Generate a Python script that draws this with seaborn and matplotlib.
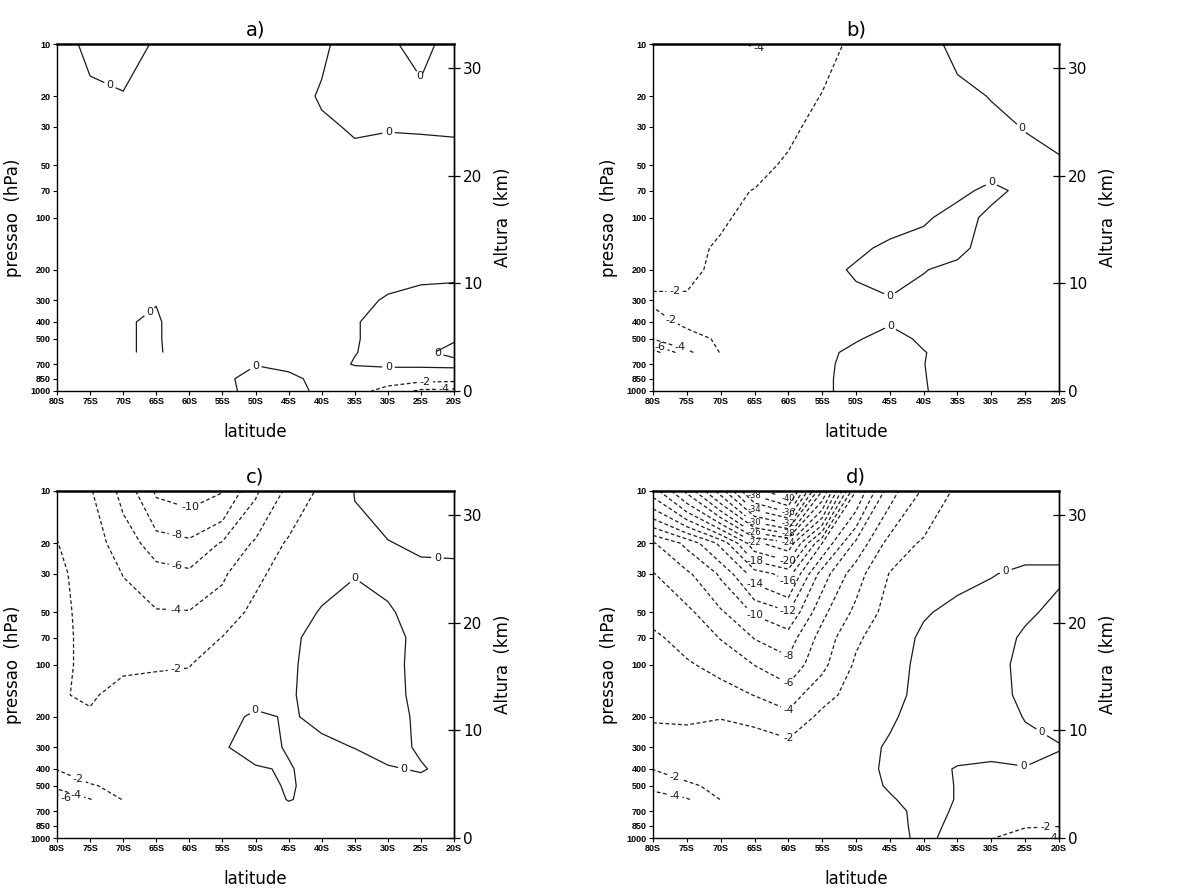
import numpy as np
import matplotlib
matplotlib.use("Agg")
import matplotlib.pyplot as plt
from matplotlib.ticker import NullLocator
import seaborn as sns

# grade: latitudes (graus, sul negativo) e niveis de pressao (hPa), do topo para a superficie
lats = [-80, -75, -70, -65, -60, -55, -50, -45, -40, -35, -30, -25, -20]
plevs = [10, 20, 30, 50, 70, 100, 150, 200, 300, 400, 500, 600, 700, 850, 1000]
p_ticks = [10, 20, 30, 50, 70, 100, 200, 300, 400, 500, 700, 850, 1000]
lat_ticks = [-80, -75, -70, -65, -60, -55, -50, -45, -40, -35, -30, -25, -20]
km_ticks = [0, 10, 20, 30]
titles = ["a)", "b)", "c)", "d)"]
nan = float("nan")

# valores (nan = abaixo da topografia antartica)
field_a = [
    [-1.0, 0.56, 1.0, -0.25, -0.8, -1.0, -1.0, -0.9, -0.3, 0.8, 0.3, -0.6, 0.8],
    [-1.0, -0.5, -0.15, -0.8, -1.0, -1.0, -1.0, -0.8, 0.2, 0.8, 0.8, 0.5, 0.8],
    [-1.0, -1.0, -1.0, -1.0, -1.0, -1.0, -1.0, -0.9, -0.3, 0.2, 0.1, 0.15, 0.2],
    [-1.0, -1.0, -1.0, -1.0, -1.0, -1.0, -1.0, -1.0, -0.9, -0.6, -0.8, -0.8, -0.7],
    [-1.0, -1.0, -1.0, -1.0, -1.0, -1.0, -1.0, -1.0, -1.0, -0.8, -0.8, -0.8, -0.7],
    [-1.0, -1.0, -1.0, -1.0, -1.0, -1.0, -1.0, -1.0, -1.0, -0.9, -0.8, -0.7, -0.6],
    [-1.0, -1.0, -1.0, -1.0, -1.0, -1.0, -1.0, -1.0, -1.0, -0.9, -0.7, -0.6, -0.5],
    [-1.0, -1.0, -1.0, -1.0, -1.0, -1.0, -1.0, -1.0, -1.0, -0.8, -0.5, -0.4, -0.3],
    [-1.0, -1.0, -0.6, -0.1, -1.2, -1.0, -1.0, -1.0, -0.8, -0.4, 0.15, 0.5, 0.5],
    [-1.0, -1.0, -0.2, 0.3, -1.5, -1.0, -1.0, -1.0, -0.8, -0.1, 0.5, 0.6, 0.5],
    [-1.0, -1.0, -0.2, 0.3, -1.5, -1.0, -1.0, -1.0, -0.6, -0.1, 0.5, 0.5, 0.1],
    [-1.0, -1.0, -0.2, 0.3, -1.2, -0.6, -0.3, -0.5, -0.6, -0.05, 0.5, 0.2, -0.3],
    [nan, nan, nan, nan, -1.0, -0.5, -0.05, -0.4, -0.7, 0.1, 0.3, 0.3, 0.4],
    [nan, nan, nan, nan, -1.0, -0.3, 0.5, 0.4, -0.5, -1.0, -1.2, -1.2, -1.3],
    [nan, nan, nan, nan, -1.0, -0.5, 0.6, 0.5, -0.3, -1.4, -2.6, -4.4, -4.6],
]

field_b = [
    [-3.2, -3.5, -3.8, -4.05, -3.9, -2.8, -1.5, -1.0, -0.4, 0.3, 0.6, 0.8, 0.8],
    [-3.0, -3.3, -3.5, -3.4, -3.2, -1.9, -1.2, -0.8, -0.5, -0.3, 0.05, 0.5, 0.8],
    [-2.8, -3.0, -3.0, -2.7, -2.2, -1.7, -1.3, -1.0, -0.8, -0.6, -0.3, 0.05, 0.4],
    [-2.6, -2.7, -2.6, -2.3, -1.85, -1.5, -1.2, -1.0, -0.8, -0.6, -0.5, -0.4, -0.2],
    [-2.5, -2.4, -2.2, -1.97, -1.6, -1.3, -1.0, -0.8, -0.6, -0.3, 0.3, -0.3, -0.5],
    [-2.4, -2.3, -2.1, -1.8, -1.5, -1.2, -0.9, -0.6, -0.2, 0.5, -0.3, -0.6, -0.6],
    [-2.3, -2.2, -1.9, -1.6, -1.3, -0.9, -0.3, 0.3, 0.6, 0.3, -0.5, -0.7, -0.7],
    [-2.4, -2.2, -1.8, -1.5, -1.2, -0.5, 0.2, 0.5, 0.05, -0.3, -0.6, -0.7, -0.7],
    [-1.8, -1.9, -1.4, -1.2, -1.0, -0.8, -0.4, -0.1, -0.4, -0.6, -0.7, -0.7, -0.7],
    [-2.5, -1.7, -1.3, -1.1, -0.9, -0.7, -0.4, -0.1, -0.4, -0.6, -0.7, -0.7, -0.7],
    [-3.9, -2.5, -1.8, -1.3, -1.0, -0.6, -0.1, 0.4, -0.2, -0.6, -0.7, -0.7, -0.7],
    [-9.0, -4.5, -1.9, -1.4, -1.0, -0.3, 0.3, 0.6, 0.05, -0.5, -0.7, -0.7, -0.7],
    [nan, nan, nan, nan, -0.8, -0.25, 0.4, 0.6, 0.02, -0.5, -0.7, -0.7, -0.7],
    [nan, nan, nan, nan, -0.7, -0.2, 0.4, 0.6, 0.05, -0.5, -0.7, -0.7, -0.7],
    [nan, nan, nan, nan, -0.7, -0.2, 0.4, 0.6, 0.08, -0.5, -0.7, -0.7, -0.7],
]

field_c = [
    [-2.5, -3.8, -6.6, -10.3, -10.8, -10.1, -6.3, -3.5, -1.6, 0.05, 0.5, 0.6, 0.6],
    [-1.95, -3.1, -4.9, -7.0, -7.6, -5.8, -3.7, -1.7, -1.0, -0.3, -0.05, 0.2, 0.25],
    [-1.6, -2.8, -4.05, -5.2, -5.6, -4.3, -2.4, -1.2, -0.4, -0.05, -0.3, -0.3, -0.3],
    [-1.5, -2.6, -3.3, -3.85, -3.9, -3.0, -1.5, -0.6, 0.1, 0.6, 0.15, -0.5, -0.5],
    [-1.5, -2.5, -2.8, -3.0, -3.1, -1.95, -1.0, -0.25, 0.4, 0.8, 0.6, -0.5, -0.5],
    [-1.6, -2.4, -2.2, -2.1, -2.05, -1.3, -0.7, -0.2, 0.5, 0.8, 0.6, -0.6, -0.6],
    [-1.9, -2.15, -1.6, -1.6, -1.5, -0.8, -0.4, -0.15, 0.5, 0.8, 0.6, -0.5, -0.5],
    [-1.5, -1.85, -1.3, -1.3, -1.2, -0.4, 0.2, -0.1, 0.2, 0.6, 0.6, -0.3, -0.5],
    [-1.4, -1.3, -0.9, -1.0, -0.8, -0.1, 0.4, -0.1, -0.2, 0.02, 0.4, -0.15, -0.4],
    [-1.95, -1.4, -1.0, -0.8, -0.6, -0.4, -0.1, 0.1, -0.5, -0.4, -0.1, 0.1, -0.4],
    [-3.0, -2.1, -1.7, -0.7, -0.5, -0.5, -0.5, 0.15, -0.5, -0.5, -0.4, -0.4, -0.4],
    [-7.6, -4.1, -1.9, -0.6, -0.4, -0.6, -0.6, 0.05, -0.3, -0.5, -0.4, -0.4, -0.4],
    [nan, nan, nan, nan, -0.4, -0.6, -0.6, -0.3, -0.3, -0.5, -0.4, -0.4, -0.4],
    [nan, nan, nan, nan, -0.4, -0.5, -0.5, -0.3, -0.3, -0.5, -0.4, -0.4, -0.4],
    [nan, nan, nan, nan, -0.4, -0.4, -0.4, -0.3, -0.2, -0.5, -0.4, -0.4, -0.4],
]

field_d = [
    [-19.0, -24.5, -31.0, -39.0, -42.0, -28.0, -14.0, -6.8, -3.7, -1.6, -1.2, -1.0, -0.8],
    [-7.8, -10.5, -14.5, -21.5, -23.5, -14.0, -7.5, -3.2, -1.7, -0.9, -0.6, -0.4, -0.3],
    [-5.9, -7.6, -10.3, -15.0, -16.8, -9.0, -4.8, -1.9, -0.9, -0.4, -0.05, 0.2, 0.15],
    [-4.5, -5.5, -7.7, -10.2, -11.8, -6.5, -3.5, -1.2, -0.15, 0.4, 0.5, 0.2, -0.3],
    [-3.7, -4.6, -6.1, -8.1, -9.0, -5.2, -2.3, -0.9, 0.3, 0.6, 0.6, -0.2, -0.5],
    [-3.3, -3.8, -4.6, -6.05, -7.4, -4.5, -1.7, -0.6, 0.4, 0.7, 0.5, -0.4, -0.6],
    [-2.6, -2.9, -3.2, -4.05, -4.9, -2.7, -1.2, -0.4, 0.4, 0.6, 0.5, -0.3, -0.6],
    [-2.1, -2.15, -2.05, -2.3, -3.5, -1.5, -0.8, -0.1, 0.3, 0.5, 0.5, -0.05, -0.5],
    [-1.5, -1.5, -1.3, -1.3, -1.2, -0.7, -0.3, 0.1, 0.5, 0.5, 0.5, 0.3, 0.1],
    [-1.95, -1.5, -1.2, -1.0, -0.8, -0.6, -0.4, 0.2, 0.5, -0.1, -0.3, -0.05, -0.5],
    [-3.4, -2.2, -1.7, -0.9, -0.7, -0.6, -0.4, 0.1, 0.4, -0.05, -0.4, -0.5, -0.6],
    [-5.0, -4.2, -1.95, -0.9, -0.6, -0.5, -0.4, -0.1, 0.4, -0.05, -0.4, -0.6, -0.7],
    [nan, nan, nan, nan, -0.6, -0.5, -0.5, -0.3, 0.3, -0.1, -0.5, -0.8, -0.9],
    [nan, nan, nan, nan, -0.5, -0.5, -0.5, -0.3, 0.25, -0.2, -0.9, -1.8, -1.85],
    [nan, nan, nan, nan, -0.5, -0.5, -0.5, -0.3, 0.2, -0.3, -1.9, -3.0, -4.3],
]

# onde colocar os rotulos das isolinhas (lat, hPa), como na figura
labels_a = [(-72.5, 19), (-27.5, 17.5), (-29.9, 32.4), (-67.5, 297), (-22.5, 605),
            (-50, 716), (-29.9, 726), (-24.4, 898), (-21.5, 975)]
labels_b = [(-64.5, 10.3), (-76.8, 268), (-77, 372), (-76, 560), (-79, 559),
            (-25, 29.2), (-30, 62), (-45, 289), (-45, 430)]
labels_c = [(-59.4, 13.6), (-62, 18.6), (-62, 28.1), (-62, 48.2), (-62, 110),
            (-22.5, 23.9), (-35, 31.3), (-50, 185), (-27.6, 410),
            (-76.8, 455), (-77, 550), (-78.6, 588)]
labels_d = [(-60, 11.08), (-65, 10.57), (-60, 13.24), (-65, 12.86), (-60, 15.41),
            (-65, 15.14), (-60, 17.57), (-65, 17.43), (-60, 19.73), (-65, 19.71),
            (-60, 25.2), (-65, 25.4), (-60, 33.2), (-65, 34.2), (-60, 49.2), (-65, 51.9),
            (-60, 88.75), (-60, 128), (-60, 182), (-60, 265),
            (-27.8, 29.6), (-22.6, 247), (-25.3, 402),
            (-76.8, 450), (-76.8, 568), (-22, 866), (-21, 985)]

fields = [field_a, field_b, field_c, field_d]
label_spots = [labels_a, labels_b, labels_c, labels_d]
levels = np.arange(-40, 41, 2)
styles = [(0, (3, 2)) if lev < 0 else "solid" for lev in levels]

sns.set_theme(style="ticks")
plt.rcParams["font.family"] = ["DejaVu Sans"]
plt.rcParams["axes.edgecolor"] = "black"
plt.rcParams["axes.linewidth"] = 1.0
plt.rcParams["text.color"] = "black"
plt.rcParams["axes.labelcolor"] = "black"
plt.rcParams["xtick.color"] = "black"
plt.rcParams["ytick.color"] = "black"

fig = plt.figure(figsize=(11.78, 8.89), dpi=100)

# posicoes dos paineis em fracao da figura (esq, base, largura, altura)
boxes = [
    (57 / 1178, 498 / 889, 397 / 1178, 347 / 889),
    (653 / 1178, 498 / 889, 406 / 1178, 347 / 889),
    (57 / 1178, 51 / 889, 397 / 1178, 347 / 889),
    (653 / 1178, 51 / 889, 406 / 1178, 347 / 889),
]

tick_font = {"family": ["Liberation Sans", "DejaVu Sans"], "weight": "bold", "size": 6.5}


def setup_axes(box, title):
    ax = fig.add_axes(box)
    ax.set_yscale("log")
    ax.set_ylim(1000, 10)
    ax.set_yticks(p_ticks)
    ax.set_yticklabels([str(p) for p in p_ticks], fontdict=tick_font)
    ax.yaxis.set_minor_locator(NullLocator())
    ax.set_xlim(-80, -20)
    ax.set_xticks(lat_ticks)
    ax.set_xticklabels([f"{-v}S" for v in lat_ticks], fontdict=tick_font)
    ax.tick_params(axis="both", direction="out", length=3, width=0.8, pad=1.5)
    ax.spines["top"].set_linewidth(1.8)

    ax.set_xlabel("latitude", fontsize=12, labelpad=12)
    ax.set_ylabel("pressao  (hPa)", fontsize=12, labelpad=6)
    ax.set_title(title, fontsize=14, pad=6)

    ax2 = ax.twinx()
    ax2.set_ylim(0, 7 * np.log(100))
    ax2.set_yticks(km_ticks)
    ax2.set_yticklabels([str(k) for k in km_ticks], fontsize=11)
    ax2.tick_params(axis="y", direction="inout", length=9, width=0.9, pad=2)
    ax2.set_ylabel("Altura  (km)", fontsize=12, labelpad=8)
    for s in ["top", "bottom", "left"]:
        ax2.spines[s].set_visible(False)
    return ax


for box, title, field, spots in zip(boxes, titles, fields, label_spots):
    ax = setup_axes(box, title)
    z = np.ma.masked_invalid(np.array(field))
    cs = ax.contour(lats, plevs, z, levels=levels, colors="k", linewidths=0.9,
                    linestyles=styles, corner_mask=False)
    texts = ax.clabel(cs, fmt="%d", fontsize=7.5, inline=True, inline_spacing=3,
                      manual=spots, colors="k")
    for t in texts:
        t.set_rotation(0)
        # rotulos do nucleo muito denso ficam menores
        if float(t.get_text()) <= -22:
            t.set_fontsize(6)
    if title != "d)":
        for t in texts:
            t.set_fontsize(8)

fig.savefig("out.png", dpi=100, facecolor="white")
